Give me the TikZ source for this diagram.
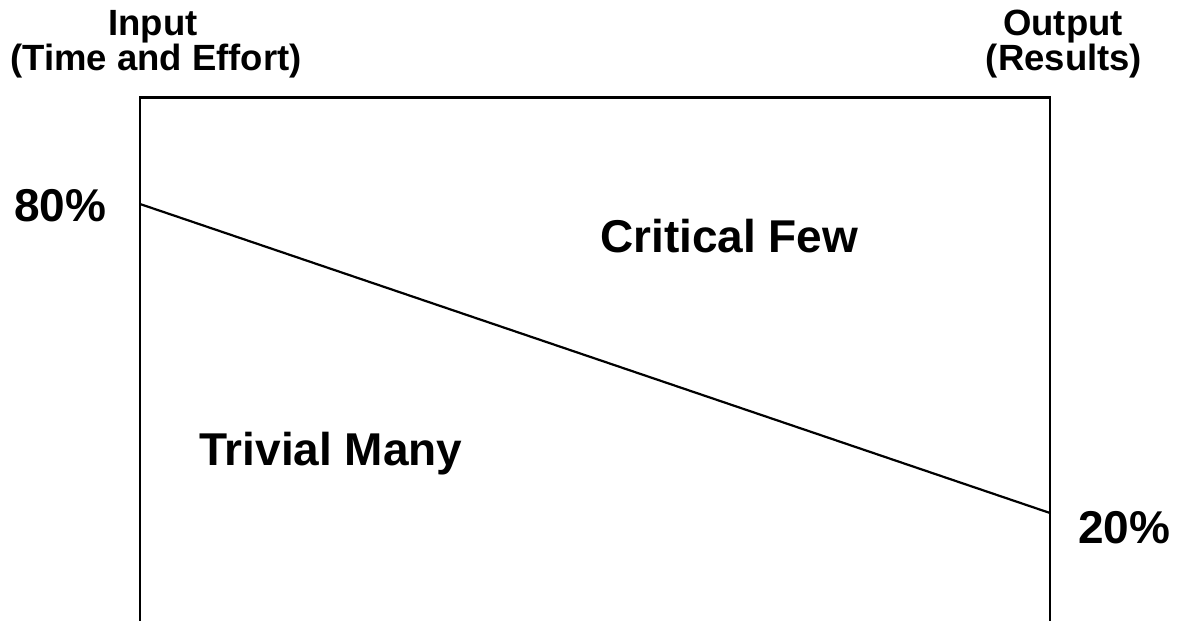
\documentclass[tikz,border=0pt]{standalone}
\usepackage{fontspec}
\setmainfont{Liberation Sans}
\tikzset{
  big/.style={inner sep=0pt, font=\bfseries\fontsize{46}{55}\selectfont},
  head/.style={inner sep=0pt, font=\bfseries\fontsize{36.5}{42}\selectfont},
  boxline/.style={line width=2.6pt, line cap=butt, line join=miter},
  divide/.style={line width=2.2pt}
}
\begin{document}
\begin{tikzpicture}[x=1pt,y=-1pt]
\useasboundingbox (0,0) rectangle (1179,621);
\coordinate (bl) at (140,623);
\coordinate (tl) at (140,97.5);
\coordinate (tr) at (1050,97.5);
\coordinate (br) at (1050,623);
\coordinate (p80) at (140,204);
\coordinate (p20) at (1050,513);
\draw[boxline] (bl) -- (tl) -- (tr) -- (br);
\draw[divide] (p80) -- (p20);
\node[head, anchor=base] (in1) at (153,35) {Input};
\node[head, anchor=base] (in2) at (156,70) {(Time and Effort)};
\node[head, anchor=base] (out1) at (1063,35) {Output};
\node[head, anchor=base] (out2) at (1064,70) {(Results)};
\node[big, anchor=base west] (l80) at (14,221) {80\%};
\node[big, anchor=base west] (l20) at (1078,543) {20\%};
\node[big, anchor=base west] (cf) at (600,252) {Critical Few};
\node[big, anchor=base west] (tm) at (199,465) {Trivial Many};
\end{tikzpicture}
\end{document}
